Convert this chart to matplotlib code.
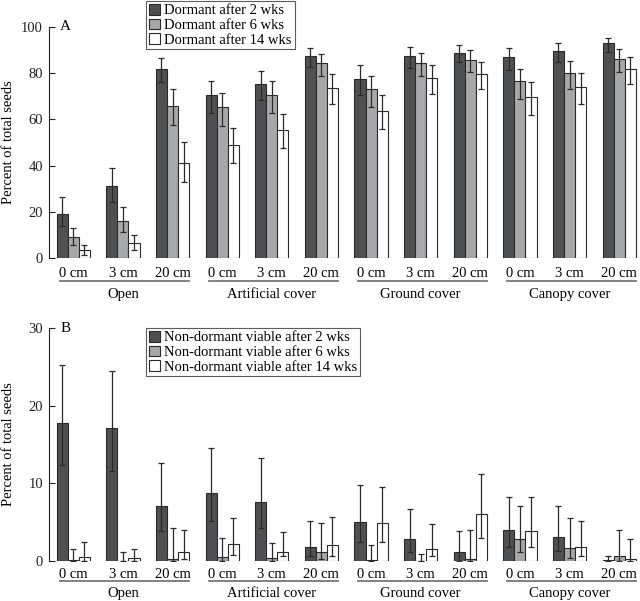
import matplotlib
matplotlib.use("Agg")
import matplotlib.pyplot as plt
import numpy as np
from matplotlib.patches import Patch

plt.rcParams['font.family'] = ['Liberation Serif', 'DejaVu Serif']

depths = ["0 cm", "3 cm", "20 cm"] * 4
groups = ["Open", "Artificial cover", "Ground cover", "Canopy cover"]

# Panel A: dormant seeds (mean, lower whisker, upper whisker)
d2 = [19.1, 31.2, 82.0, 70.4, 75.3, 87.5, 77.7, 87.5, 88.6, 87.2, 89.4, 93.0]
d2_lo = [13.7, 24.2, 76.0, 62.9, 68.6, 82.7, 70.6, 82.3, 84.7, 81.6, 84.7, 89.0]
d2_hi = [26.3, 39.1, 86.6, 76.5, 80.9, 90.9, 83.5, 91.5, 92.4, 91.0, 93.0, 95.4]
d6 = [9.1, 16.1, 65.6, 65.2, 70.4, 84.6, 73.0, 84.6, 85.6, 76.5, 80.0, 86.3]
d6_lo = [5.5, 11.2, 57.6, 57.1, 62.9, 78.8, 65.5, 79.0, 80.6, 69.0, 73.2, 80.6]
d6_hi = [13.0, 22.0, 73.0, 71.5, 76.7, 88.5, 79.0, 88.9, 90.0, 82.0, 85.3, 90.4]
d14 = [3.6, 6.5, 41.3, 49.1, 55.3, 73.8, 63.5, 78.1, 79.6, 69.8, 74.0, 81.7]
d14_lo = [1.5, 3.3, 32.8, 41.2, 47.5, 66.8, 55.8, 71.0, 73.0, 61.9, 66.6, 75.5]
d14_hi = [5.7, 10.0, 50.0, 56.1, 62.3, 79.7, 70.6, 83.5, 84.9, 76.4, 80.3, 86.8]

# Panel B: non-dormant viable seeds
n2 = [17.8, 17.1, 7.1, 8.8, 7.6, 1.8, 5.0, 2.8, 1.2, 4.0, 3.1, 0.15]
n2_lo = [12.3, 11.6, 3.9, 5.1, 4.2, 0.6, 2.5, 1.1, 0.0, 1.8, 1.3, 0.0]
n2_hi = [25.2, 24.5, 12.6, 14.6, 13.2, 5.1, 9.8, 6.7, 3.9, 8.3, 7.1, 0.65]
n6 = [0.1, 0.05, 0.3, 0.56, 0.4, 1.2, 0.1, 0.05, 0.3, 2.8, 1.7, 0.6]
n6_lo = [0.0, 0.0, 0.0, 0.0, 0.0, 0.3, 0.0, 0.0, 0.0, 1.1, 0.4, 0.0]
n6_hi = [1.5, 1.2, 4.3, 2.9, 2.3, 4.9, 2.0, 0.95, 4.0, 7.1, 5.5, 4.0]
n14 = [0.56, 0.34, 1.1, 2.2, 1.2, 2.1, 4.9, 1.6, 6.0, 3.8, 1.8, 0.3]
n14_lo = [0.0, 0.0, 0.3, 0.8, 0.7, 0.7, 2.4, 0.6, 3.0, 1.8, 0.6, 0.0]
n14_hi = [2.5, 1.6, 4.0, 5.6, 3.7, 5.7, 9.5, 4.8, 11.2, 8.3, 5.2, 2.8]

labels_A = ["Dormant after 2 wks", "Dormant after 6 wks", "Dormant after 14 wks"]
labels_B = ["Non-dormant viable after 2 wks", "Non-dormant viable after 6 wks",
            "Non-dormant viable after 14 wks"]

colors = ["#4f5052", "#a7a8aa", "#ffffff"]
edge = "#2a2a2a"
ecol = "#2a2a2a"
W = 0.223

fig = plt.figure(figsize=(6.4, 6.01), dpi=100)
H = 601.0
axA = fig.add_axes([48.5 / 640, (H - 258) / H, (640 - 48.5) / 640, 231 / H])
axB = fig.add_axes([48.5 / 640, (H - 561) / H, (640 - 48.5) / 640, 233 / H])


def draw(ax, series, ymax, yticks, labels, panel, legend_box, offs):
    depth_y, line_y, group_y = offs
    x = np.arange(12)
    handles = []
    for j, (m, lo, hi) in enumerate(series):
        m = np.array(m); lo = np.array(lo); hi = np.array(hi)
        xs = x + (j - 1) * W
        ax.bar(xs, m, width=W, color=colors[j], edgecolor=edge, linewidth=0.8, zorder=2)
        ax.errorbar(xs, m, yerr=[m - lo, hi - m], fmt='none', ecolor=ecol,
                    elinewidth=0.9, capsize=2.5, capthick=0.9, zorder=3)
        handles.append(Patch(facecolor=colors[j], edgecolor=edge, linewidth=0.8))
    ax.set_xlim(-0.5, 11.42)
    ax.set_ylim(0, ymax)
    ax.set_yticks(yticks)
    ax.tick_params(axis='y', direction='in', length=4, width=0.8, labelsize=10.5,
                   colors='#222222', pad=4)
    ax.set_xticks([])
    for s in ['top', 'right', 'bottom']:
        ax.spines[s].set_visible(False)
    ax.spines['left'].set_linewidth(0.8)
    ax.spines['left'].set_color('#222222')
    ax.set_ylabel("Percent of total seeds", fontsize=10.5)
    ax.yaxis.set_label_coords(-0.057, 0.5)
    trans = ax.get_xaxis_transform()
    for i, d in enumerate(depths):
        ax.text(i, -depth_y, d, transform=trans, ha='center', va='baseline', fontsize=10.5)
    for g, name in enumerate(groups):
        x0 = 3 * g - 0.33
        x1 = 3 * g + 2 + 0.33
        ax.plot([x0 + 0.06, x1], [-line_y, -line_y], transform=trans, color='#777777',
                lw=1.3, clip_on=False)
        ax.text(3 * g + 1, -group_y, name, transform=trans, ha='center', va='baseline',
                fontsize=10.5)
    ax.text(0.02, 1.0, panel, transform=ax.transAxes, ha='left', va='center', fontsize=11)
    leg = ax.legend(handles, labels, loc='upper left', bbox_to_anchor=legend_box,
                    bbox_transform=fig.transFigure, fontsize=10.5, frameon=True,
                    fancybox=False, edgecolor='#333333', handlelength=0.75,
                    handleheight=0.75, handletextpad=0.3, borderpad=0.2,
                    labelspacing=0.08, borderaxespad=0)
    leg.get_frame().set_linewidth(0.8)


draw(axA, [(d2, d2_lo, d2_hi), (d6, d6_lo, d6_hi), (d14, d14_lo, d14_hi)],
     100, [0, 20, 40, 60, 80, 100], labels_A, "A", (146 / 640, (H - 1) / H),
     (0.081, 0.0996, 0.171))
draw(axB, [(n2, n2_lo, n2_hi), (n6, n6_lo, n6_hi), (n14, n14_lo, n14_hi)],
     30, [0, 10, 20, 30], labels_B, "B", (146 / 640, (H - 328) / H),
     (0.071, 0.086, 0.155))

fig.savefig("out.png", dpi=100)
